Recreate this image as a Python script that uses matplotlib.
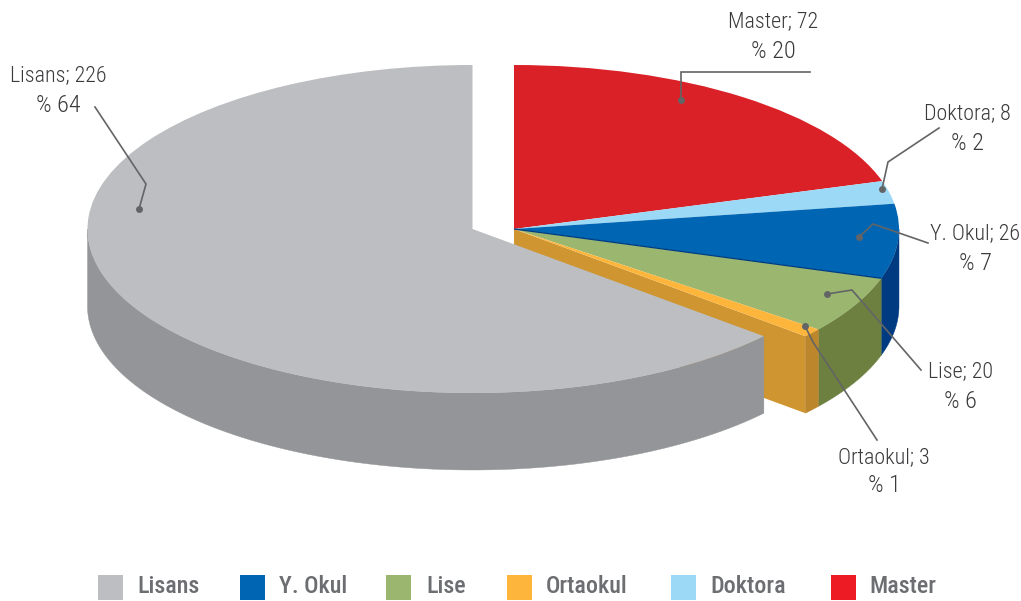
import numpy as np
import matplotlib
matplotlib.use("Agg")
import matplotlib.pyplot as plt
from matplotlib.patches import Polygon, Rectangle

# --- data (pie order: clockwise from 12 o'clock)
categories = ["Master", "Doktora", "Y. Okul", "Lise", "Ortaokul", "Lisans"]
values = [72, 8, 26, 20, 3, 226]
percents = [20, 2, 7, 6, 1, 64]
legend_order = ["Lisans", "Y. Okul", "Lise", "Ortaokul", "Doktora", "Master"]

top_colors = ["#DA2128", "#9CD9F7", "#0066B3", "#9AB66F", "#FDB53C", "#BCBEC1"]
wall_colors = ["#A3181E", "#74A2B8", "#003B82", "#6E8040", "#BC862C", "#939598"]
legend_colors = ["#BCBEC1", "#0066B3", "#9AB66F", "#FDB53C", "#9CD9F7", "#ED1C24"]

# --- geometry in pixels of the 1021x601 canvas
W, H = 1021, 601
CX, CY, RX, RY = 514, 229, 385, 164
DEPTH = 77 / RY
LISANS_SHIFT = -41.5 / RX

plt.rcParams["font.family"] = ["Roboto Condensed", "DejaVu Sans"]

fig = plt.figure(figsize=(W / 100, H / 100), dpi=100, facecolor="white")
ax = fig.add_axes([0, 0, 1, 1])

wedges, _ = ax.pie(values, startangle=90, counterclock=False, colors=top_colors,
                   wedgeprops=dict(linewidth=0))
ax.set_aspect("auto")
ax.set_xlim(-CX / RX, (W - CX) / RX)
ax.set_ylim((CY - H) / RY, CY / RY)
ax.axis("off")

# slice angles from values
fracs = np.array(values) / sum(values)
ends = 90 - np.cumsum(fracs) * 360
starts = ends + fracs * 360

idx_lis = categories.index("Lisans")
idx_ort = categories.index("Ortaokul")
idx_yo = categories.index("Y. Okul")
idx_lise = categories.index("Lise")

wedges[idx_lis].set_center((LISANS_SHIFT, 0))

for i, w in enumerate(wedges):
    w.set_zorder(4)
wedges[idx_lis].set_zorder(7)


def wall(i, z):
    """Outer curved wall of a slice, only its part facing the viewer."""
    hi = min(starts[i], 0)
    lo = max(ends[i], -180)
    if hi <= lo:
        return
    t = np.radians(np.linspace(hi, lo, 200))
    cx = LISANS_SHIFT if i == idx_lis else 0
    x = cx + np.cos(t)
    y = np.sin(t)
    pts = np.r_[np.c_[x, y], np.c_[x[::-1], y[::-1] - DEPTH]]
    ax.add_patch(Polygon(pts, closed=True, fc=wall_colors[i], ec=wall_colors[i],
                         lw=0.3, zorder=z))


# radial face of the Ortaokul slice, exposed by the pulled-out Lisans slice
te = np.radians(ends[idx_ort])
ax.add_patch(Polygon([(0, 0), (np.cos(te), np.sin(te)), (np.cos(te), np.sin(te) - DEPTH), (0, -DEPTH)],
                     closed=True, fc="#CF9530", ec="none", zorder=2))
for i in (idx_yo, idx_lise, idx_ort):
    wall(i, 3)
wall(idx_lis, 6)

# thin dark seam under the blue slice
tb = np.radians(ends[idx_yo])
ax.plot([0, np.cos(tb)], [0, np.sin(tb)], color="#003B82", lw=0.9, zorder=5, solid_capstyle="butt")

# overlay axes in pixel units for labels, leaders and legend
ov = fig.add_axes([0, 0, 1, 1], facecolor="none")
ov.set_xlim(0, W)
ov.set_ylim(H, 0)
ov.axis("off")

TXT = "#3A3A3D"
LEAD = "#636466"
labels = {
    "Master": ((773, 22), (773, 52)),
    "Lisans": ((58, 76), (58, 105)),
    "Doktora": ((967, 114), (967, 143)),
    "Y. Okul": ((975, 234), (975, 264)),
    "Lise": ((960, 372), (960, 401)),
    "Ortaokul": ((884, 458), (884, 485)),
}
leaders = {
    "Master": [(810, 72), (681, 72), (681, 100)],
    "Lisans": [(95, 107), (146, 184), (139, 209)],
    "Doktora": [(939, 128), (888, 162), (882, 189)],
    "Y. Okul": [(928, 243), (873, 224), (859, 237)],
    "Lise": [(921, 370), (852, 290), (827, 294)],
    "Ortaokul": [(877, 440), (813, 342), (805, 326)],
}
for name, val, pct in zip(categories, values, percents):
    p1, p2 = labels[name]
    ov.text(*p1, f"{name}; {val}", ha="center", va="center", fontsize=15.8, color=TXT, fontweight=300)
    ov.text(*p2, f"% {pct}", ha="center", va="center", fontsize=17.5, color=TXT, fontweight=300)
    xs, ys = zip(*leaders[name])
    ov.plot(xs, ys, color=LEAD, lw=1.2, zorder=8, solid_joinstyle="miter")
    ov.plot(xs[-1], ys[-1], "o", ms=5, color=LEAD, mec="none", zorder=8)

# legend
sq_x = [98, 240, 386, 507, 671, 831]
tx_x = [137, 279, 426, 546, 710, 869]
for name, col, sx, tx in zip(legend_order, legend_colors, sq_x, tx_x):
    ov.add_patch(Rectangle((sx, 575), 25, 25, fc=col, ec="none"))
    ov.text(tx, 586.5, name, ha="left", va="center", fontsize=17.3, color="#6D6E71",
            fontweight=500)

fig.savefig("out.png", dpi=100, facecolor="white")
